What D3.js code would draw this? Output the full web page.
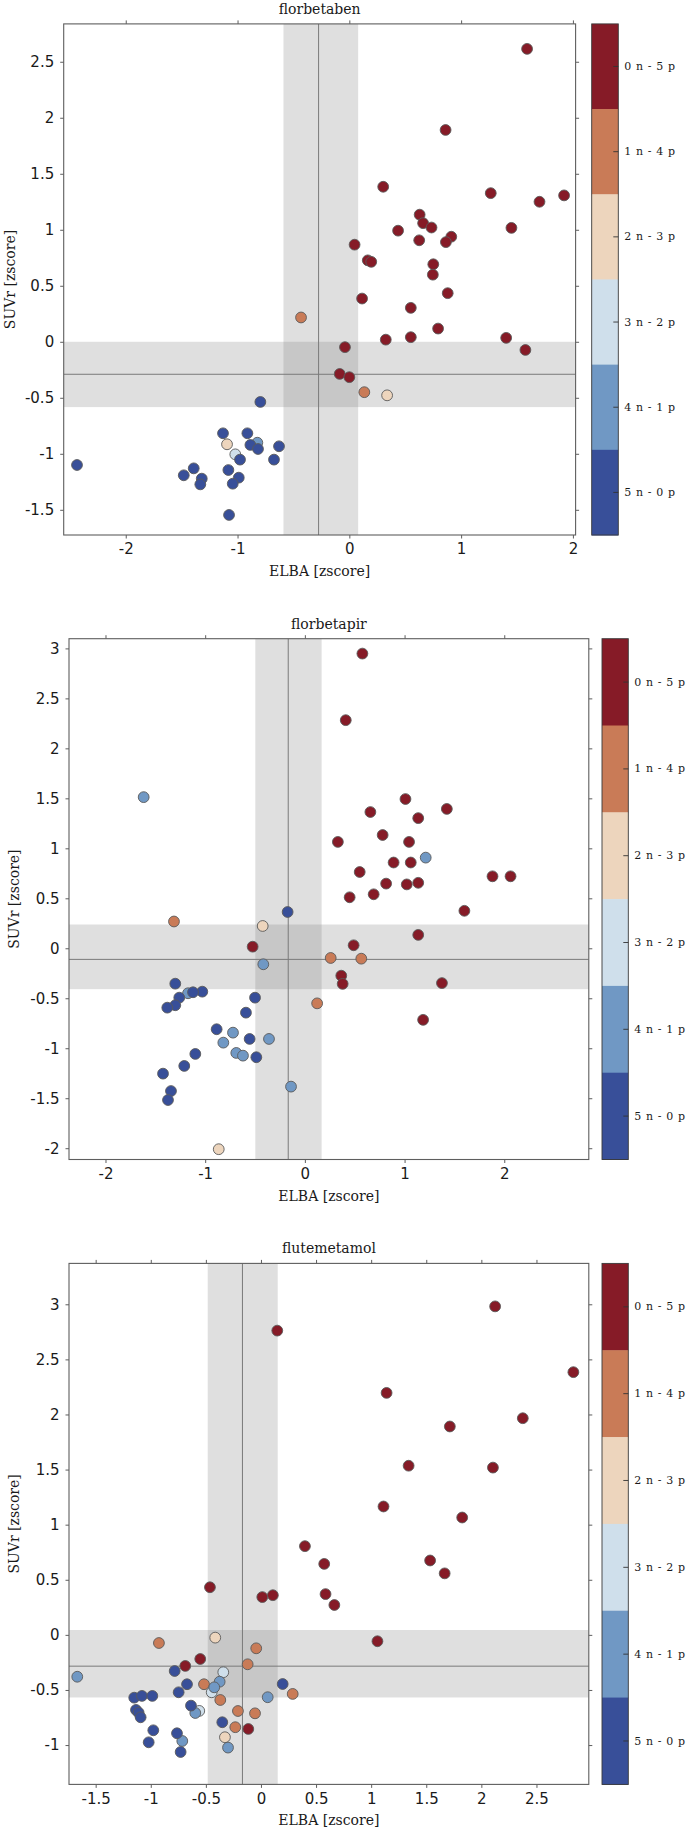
<!DOCTYPE html>
<html>
<head>
<meta charset="utf-8">
<script src="https://cdn.jsdelivr.net/npm/d3@7"></script>
<style>
  html, body { margin: 0; padding: 0; background: #fff; }
  svg { display: block; }
</style>
</head>
<body>
<svg id="chart" width="689" height="1832"></svg>
<script>
// ---------------- DATA ----------------
const categories = ["0 n - 5 p", "1 n - 4 p", "2 n - 3 p", "3 n - 2 p", "4 n - 1 p", "5 n - 0 p"];
const categoryColors = ["#861b27", "#c97b57", "#edd5bd", "#cfdfeb", "#7098c4", "#384f99"];
const tracers = ["florbetaben", "florbetapir", "flutemetamol"];

// florbetaben
const fbbX = [1.59,0.861,0.303,1.265,1.921,1.701,0.629,0.66,0.735,0.436,1.45,0.912,0.864,0.625,0.047,0.165,0.196,0.751,0.747,0.88,0.114,0.55,0.794,0.326,0.55,1.403,1.575,-0.039,-0.086,0.0,
  -0.432,0.134,
  0.338,-1.094,
  -1.02,
  -0.823,
  -0.796,-1.13,-0.912,-0.885,-0.817,-0.629,-0.978,-0.674,-2.436,-1.392,-1.481,-1.32,-1.333,-1.082,-0.989,-1.043,-1.076];
const fbbY = [2.615,1.891,1.384,1.327,1.307,1.25,1.135,1.059,1.02,0.992,1.017,0.938,0.89,0.906,0.867,0.727,0.714,0.692,0.599,0.434,0.386,0.303,0.118,0.019,0.041,0.035,-0.073,-0.048,-0.287,-0.316,
  0.217,-0.45,
  -0.478,-0.915,
  -1.005,
  -0.901,
  -0.537,-0.817,-0.817,-0.921,-0.957,-0.933,-1.052,-1.052,-1.1,-1.13,-1.192,-1.222,-1.273,-1.145,-1.213,-1.267,-1.546];
const fbbCat = [0,0,0,0,0,0,0,0,0,0,0,0,0,0,0,0,0,0,0,0,0,0,0,0,0,0,0,0,0,0,
  1,1,
  2,2,
  3,
  4,
  5,5,5,5,5,5,5,5,5,5,5,5,5,5,5,5,5];

// florbetapir
const fbpX = [0.577,0.41,1.009,1.424,0.657,1.137,0.78,0.331,1.045,0.89,1.062,0.55,0.815,1.022,1.137,1.882,2.063,0.449,0.69,1.6,1.137,-0.524,0.489,0.365,0.379,1.375,1.186,
  -1.313,0.259,0.566,0.123,
  -0.423,-0.864,
  -1.617,1.212,-0.417,-0.721,-0.818,-0.36,-0.688,-0.621,-0.139,-1.172,
  -0.173,-1.3,-1.029,-1.122,-1.26,-0.5,-1.3,-1.38,-0.591,-0.885,-0.554,-0.487,-1.099,-1.21,-1.423,-1.343,-1.373];
const fbpY = [2.948,2.282,1.493,1.394,1.363,1.302,1.133,1.064,1.064,0.858,0.858,0.763,0.647,0.639,0.655,0.72,0.72,0.51,0.54,0.375,0.134,0.016,0.03,-0.274,-0.356,-0.348,-0.716,
  0.268,-0.097,-0.104,-0.551,
  0.223,-2.01,
  1.512,0.907,-0.16,-0.844,-0.944,-0.907,-1.047,-1.074,-1.384,-0.45,
  0.363,-0.354,-0.434,-0.44,-0.494,-0.494,-0.57,-0.594,-0.644,-0.81,-0.907,-1.09,-1.057,-1.177,-1.254,-1.428,-1.518];
const fbpCat = [0,0,0,0,0,0,0,0,0,0,0,0,0,0,0,0,0,0,0,0,0,0,0,0,0,0,0,
  1,1,1,1,
  2,2,
  4,4,4,4,4,4,4,4,4,4,
  5,5,5,5,5,5,5,5,5,5,5,5,5,5,5,5,5];

// flutemetamol
const fmmX = [2.125,0.148,2.835,1.14,2.376,1.714,1.34,2.105,1.112,1.826,0.399,0.574,1.535,1.667,-0.463,0.012,0.108,0.586,0.666,1.057,-0.551,-0.687,-0.115,
  -0.926,-0.043,-0.121,-0.517,0.288,-0.369,-0.209,-0.054,-0.233,
  -0.415,-0.327,
  -0.342,-0.447,-0.56,
  -1.667,-0.375,-0.424,0.061,-0.596,-0.714,-0.299,
  -0.783,-0.671,-0.747,0.197,-1.15,-1.08,-0.986,-0.635,-1.134,-1.11,-1.092,-0.977,-0.762,-0.351,-1.019,-0.729];
const fmmY = [2.981,2.761,2.384,2.196,1.966,1.891,1.535,1.518,1.165,1.065,0.805,0.644,0.675,0.558,0.432,0.343,0.36,0.37,0.271,-0.058,-0.219,-0.282,-0.854,
  -0.074,-0.122,-0.267,-0.448,-0.536,-0.591,-0.691,-0.712,-0.838,
  -0.025,-0.929,
  -0.339,-0.521,-0.69,
  -0.38,-0.425,-0.476,-0.566,-0.709,-0.963,-1.023,
  -0.328,-0.448,-0.521,-0.446,-0.57,-0.554,-0.554,-0.642,-0.681,-0.706,-0.748,-0.866,-0.893,-0.793,-0.975,-1.063];
const fmmCat = [0,0,0,0,0,0,0,0,0,0,0,0,0,0,0,0,0,0,0,0,0,0,0,
  1,1,1,1,1,1,1,1,1,
  2,2,
  3,3,3,
  4,4,4,4,4,4,4,
  5,5,5,5,5,5,5,5,5,5,5,5,5,5,5,5];

// reference bands [low, high] and mean lines
const elbaBand = [[-0.589, 0.079], [-0.497, 0.168], [-0.483, 0.152]];
const elbaMean = [-0.275, -0.167, -0.168];
const suvrBand = [[-0.583, 0.0], [-0.409, 0.238], [-0.568, 0.044]];
const suvrMean = [-0.29, -0.111, -0.284];

// axis domains and ticks
const xDomains = [[-2.555, 2.024], [-2.366, 2.848], [-1.742, 2.975]];
const yDomains = [[-1.725, 2.838], [-2.113, 3.097], [-1.357, 3.371]];
const xTicks = [[-2, -1, 0, 1, 2], [-2, -1, 0, 1, 2], [-1.5, -1, -0.5, 0, 0.5, 1, 1.5, 2, 2.5]];
const yTicks = [[-1.5, -1, -0.5, 0, 0.5, 1, 1.5, 2, 2.5],
                [-2, -1.5, -1, -0.5, 0, 0.5, 1, 1.5, 2, 2.5, 3],
                [-1, -0.5, 0, 0.5, 1, 1.5, 2, 2.5, 3]];
const xLabel = "ELBA [zscore]";
const yLabel = "SUVr [zscore]";

// ---------------- LAYOUT ----------------
const layouts = [
  { left: 63.7, right: 575.6, top: 23.9, bottom: 535, cbL: 591.7, cbR: 618.3, ylabX: 10 },
  { left: 69, right: 588.8, top: 638.7, bottom: 1159.5, cbL: 602, cbR: 628.3, ylabX: 13.5 },
  { left: 69, right: 588.8, top: 1263.4, bottom: 1784.4, cbL: 602, cbR: 628.3, ylabX: 13.5 }
];

const panels = [
  { x: fbbX, y: fbbY, c: fbbCat },
  { x: fbpX, y: fbpY, c: fbpCat },
  { x: fmmX, y: fmmY, c: fmmCat }
];

const svg = d3.select("#chart");
const serif = "'DejaVu Serif', serif";
const sans = "'DejaVu Sans', sans-serif";
const frameColor = "#5e5e5e";
const fmt = d => String(d);
const color = d3.scaleOrdinal().domain(d3.range(categories.length)).range(categoryColors);

panels.forEach((p, i) => {
  const L = layouts[i];
  const g = svg.append("g");
  const x = d3.scaleLinear().domain(xDomains[i]).range([L.left, L.right]);
  const y = d3.scaleLinear().domain(yDomains[i]).range([L.bottom, L.top]);

  const clipId = "clip" + i;
  g.append("clipPath").attr("id", clipId).append("rect")
    .attr("x", L.left).attr("y", L.top).attr("width", L.right - L.left).attr("height", L.bottom - L.top);
  const plot = g.append("g").attr("clip-path", `url(#${clipId})`);

  // bands
  plot.append("rect")
    .attr("x", x(elbaBand[i][0])).attr("width", x(elbaBand[i][1]) - x(elbaBand[i][0]))
    .attr("y", L.top).attr("height", L.bottom - L.top)
    .attr("fill", "#808080").attr("fill-opacity", 0.25);
  plot.append("rect")
    .attr("x", L.left).attr("width", L.right - L.left)
    .attr("y", y(suvrBand[i][1])).attr("height", y(suvrBand[i][0]) - y(suvrBand[i][1]))
    .attr("fill", "#808080").attr("fill-opacity", 0.25);
  // mean lines
  plot.append("line")
    .attr("x1", x(elbaMean[i])).attr("x2", x(elbaMean[i]))
    .attr("y1", L.top).attr("y2", L.bottom)
    .attr("stroke", "#7a7a7a").attr("stroke-width", 1);
  plot.append("line")
    .attr("x1", L.left).attr("x2", L.right)
    .attr("y1", y(suvrMean[i])).attr("y2", y(suvrMean[i]))
    .attr("stroke", "#7a7a7a").attr("stroke-width", 1);

  // points
  const pts = p.x.map((v, k) => ({ x: v, y: p.y[k], c: p.c[k] }));
  plot.selectAll("circle.pt").data(pts).join("circle")
    .attr("class", "pt")
    .attr("cx", d => x(d.x)).attr("cy", d => y(d.y))
    .attr("r", 5.4)
    .attr("fill", d => color(d.c))
    .attr("stroke", "#5a5a5a").attr("stroke-width", 0.9);

  // axes (ticks outward on all sides)
  const styleAxis = (sel) => {
    sel.select(".domain").remove();
    sel.selectAll(".tick line").attr("stroke", frameColor);
    sel.selectAll(".tick text").attr("fill", "#1a1a1a").style("font-family", sans).style("font-size", "15px");
  };
  g.append("g").attr("transform", `translate(0,${L.bottom})`)
    .call(d3.axisBottom(x).tickValues(xTicks[i]).tickFormat(fmt).tickSize(3.5).tickPadding(5))
    .call(styleAxis);
  g.append("g").attr("transform", `translate(0,${L.top})`)
    .call(d3.axisTop(x).tickValues(xTicks[i]).tickFormat("").tickSize(3.5))
    .call(styleAxis);
  g.append("g").attr("transform", `translate(${L.left},0)`)
    .call(d3.axisLeft(y).tickValues(yTicks[i]).tickFormat(fmt).tickSize(3.5).tickPadding(6))
    .call(styleAxis);
  g.append("g").attr("transform", `translate(${L.right},0)`)
    .call(d3.axisRight(y).tickValues(yTicks[i]).tickFormat("").tickSize(3.5))
    .call(styleAxis);

  // frame
  g.append("rect")
    .attr("x", L.left).attr("y", L.top).attr("width", L.right - L.left).attr("height", L.bottom - L.top)
    .attr("fill", "none").attr("stroke", frameColor).attr("stroke-width", 1.1);

  // title and labels
  g.append("text").attr("x", (L.left + L.right) / 2).attr("y", L.top - 10)
    .attr("text-anchor", "middle").style("font-family", serif).style("font-size", "14px")
    .attr("fill", "#1a1a1a").text(tracers[i]);
  g.append("text").attr("x", (L.left + L.right) / 2).attr("y", L.bottom + 41)
    .attr("text-anchor", "middle").style("font-family", serif).style("font-size", "14px")
    .attr("fill", "#1a1a1a").text(xLabel);
  g.append("text")
    .attr("transform", `translate(${L.ylabX + 5},${(L.top + L.bottom) / 2}) rotate(-90)`)
    .attr("text-anchor", "middle").style("font-family", serif).style("font-size", "14px")
    .attr("fill", "#1a1a1a").text(yLabel);

  // colorbar
  const cb = d3.scaleBand().domain(categories).range([L.top, L.bottom]).paddingInner(0).paddingOuter(0);
  g.append("g").selectAll("rect").data(categories).join("rect")
    .attr("x", L.cbL).attr("width", L.cbR - L.cbL)
    .attr("y", d => cb(d)).attr("height", cb.bandwidth() + 0.5)
    .attr("fill", (d, k) => categoryColors[k]);
  g.append("rect")
    .attr("x", L.cbL).attr("y", L.top).attr("width", L.cbR - L.cbL).attr("height", L.bottom - L.top)
    .attr("fill", "none").attr("stroke", "#3a3a3a").attr("stroke-width", 0.9);
  const cbAxis = g.append("g").attr("transform", `translate(${L.cbR},0)`)
    .call(d3.axisRight(cb).tickSizeInner(-5).tickSizeOuter(0).tickPadding(6));
  cbAxis.select(".domain").remove();
  cbAxis.selectAll(".tick line").attr("stroke", "#333").attr("stroke-width", 0.9);
  cbAxis.selectAll(".tick text").attr("fill", "#1a1a1a")
    .style("font-family", serif).style("font-size", "11px").style("letter-spacing", "0.6px");
});
</script>
</body>
</html>
